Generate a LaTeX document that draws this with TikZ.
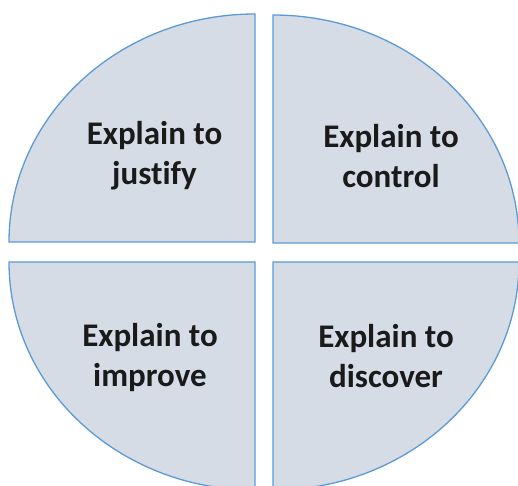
\documentclass[tikz,border=0pt]{standalone}
\usepackage{fontspec}
\setmainfont{Carlito}[Ligatures=NoCommon]
\definecolor{quadfill}{HTML}{D6DCE5}
\definecolor{quadline}{HTML}{5B9BD5}
\definecolor{lbltext}{HTML}{1A1A1A}
\begin{document}
\begin{tikzpicture}[x=1pt,y=1pt,
  quad/.style={fill=quadfill,draw=quadline,line width=1.3pt,line join=miter},
  lbl/.style={align=center,font=\fontsize{33}{40}\selectfont\bfseries,text=lbltext,inner sep=0pt}]
\useasboundingbox (0,0) rectangle (518,485);
\clip (0,0) rectangle (518,485);
% quadrants
\coordinate (c1) at (255,243);
\coordinate (c2) at (273,242);
\coordinate (c3) at (255,223);
\coordinate (c4) at (273,223);
\path[quad] (c1) -- ++(-246,0) arc[start angle=180,end angle=90,x radius=246,y radius=228] -- cycle;
\path[quad] (c2) -- ++(0,228) arc[start angle=90,end angle=0,x radius=246,y radius=228] -- cycle;
\path[quad] (c3) -- ++(-246,0) arc[start angle=180,end angle=270,x radius=246,y radius=228] -- cycle;
\path[quad] (c4) -- ++(0,-228) arc[start angle=270,end angle=360,x radius=246,y radius=228] -- cycle;
% labels
\node[lbl] (justify) at (154.5,329) {Explain to\\justify};
\node[lbl] (control) at (391,329) {Explain to\\control};
\node[lbl] (improve) at (150,127) {Explain to\\improve};
\node[lbl] (discover) at (386,129) {Explain to\\discover};
\end{tikzpicture}
\end{document}
